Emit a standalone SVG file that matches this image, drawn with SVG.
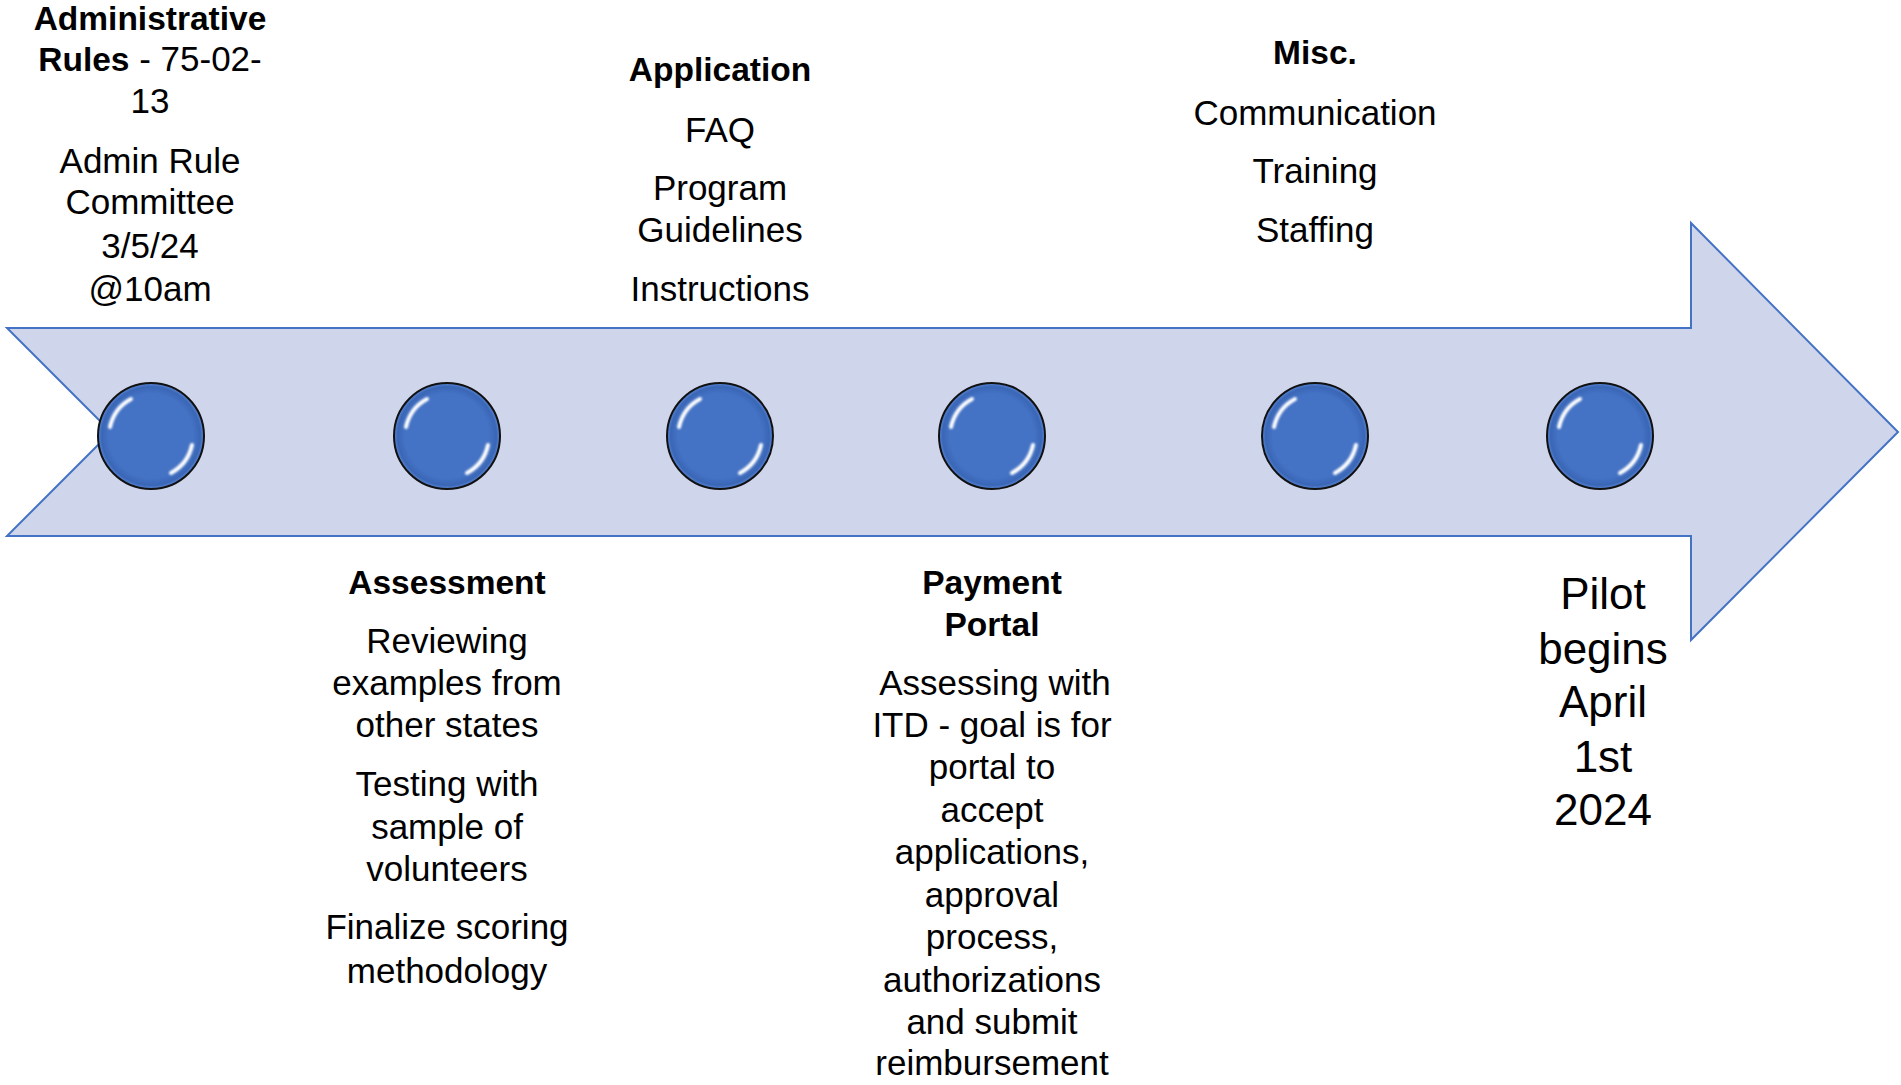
<svg xmlns="http://www.w3.org/2000/svg" xmlns:xlink="http://www.w3.org/1999/xlink" width="1901" height="1085" viewBox="0 0 1901 1085">
<style>
  text { font-family: "Liberation Sans", Arial, sans-serif; font-size: 35px; fill: #000; text-anchor: middle; }
  .b { font-weight: bold; font-size: 33.5px; }
  .big { font-size: 44px; }
  .arrow { fill: #CFD5EA; stroke: #4472C4; stroke-width: 2; }
</style>
<defs>
  <radialGradient id="orbFill" cx="50%" cy="50%" r="50%">
    <stop offset="0" stop-color="#4472C4"/>
    <stop offset="0.8" stop-color="#4472C4"/>
    <stop offset="0.93" stop-color="#3A66B6"/>
    <stop offset="1" stop-color="#5A86D4"/>
  </radialGradient>
  <filter id="soft" x="-20%" y="-20%" width="140%" height="140%">
    <feGaussianBlur stdDeviation="1.2"/>
  </filter>
  <g id="orb">
    <circle r="53" fill="url(#orbFill)" stroke="#111" stroke-width="2"/>
    <path d="M -41 -9 A 42 42 0 0 1 -20 -37" fill="none" stroke="#fff" stroke-width="4" stroke-linecap="round" filter="url(#soft)"/>
    <path d="M 41 9 A 42 42 0 0 1 20 37" fill="none" stroke="#fff" stroke-width="4" stroke-linecap="round" filter="url(#soft)"/>
  </g>
</defs>
<rect width="1901" height="1085" fill="#fff"/>
<g id="connectors">
  <path class="arrow" d="M 7 328 L 1691 328 L 1691 223 L 1898 432 L 1691 640 L 1691 536 L 7 536 L 111 432 Z"/>
</g>
<g id="node-admin-rules">
  <use xlink:href="#orb" x="151" y="436"/>
  <text class="b" x="150" y="30">Administrative</text>
  <text x="150" y="71"><tspan font-weight="bold" font-size="33.5">Rules</tspan> - 75-02-</text>
  <text x="150" y="113">13</text>
  <text x="150" y="173">Admin Rule</text>
  <text x="150" y="214">Committee</text>
  <text x="150" y="258">3/5/24</text>
  <text x="150" y="301">@10am</text>
</g>
<g id="node-assessment">
  <use xlink:href="#orb" x="447" y="436"/>
  <text class="b" x="447" y="594">Assessment</text>
  <text x="447" y="653">Reviewing</text>
  <text x="447" y="695">examples from</text>
  <text x="447" y="737">other states</text>
  <text x="447" y="796">Testing with</text>
  <text x="447" y="839">sample of</text>
  <text x="447" y="881">volunteers</text>
  <text x="447" y="939">Finalize scoring</text>
  <text x="447" y="983">methodology</text>
</g>
<g id="node-application">
  <use xlink:href="#orb" x="720" y="436"/>
  <text class="b" x="720" y="81">Application</text>
  <text x="720" y="142">FAQ</text>
  <text x="720" y="200">Program</text>
  <text x="720" y="242">Guidelines</text>
  <text x="720" y="301">Instructions</text>
</g>
<g id="node-payment-portal">
  <use xlink:href="#orb" x="992" y="436"/>
  <text class="b" x="992" y="594">Payment</text>
  <text class="b" x="992" y="636">Portal</text>
  <text x="995" y="695">Assessing with</text>
  <text x="992" y="737">ITD - goal is for</text>
  <text x="992" y="779">portal to</text>
  <text x="992" y="822">accept</text>
  <text x="992" y="864">applications,</text>
  <text x="992" y="907">approval</text>
  <text x="992" y="949">process,</text>
  <text x="992" y="992">authorizations</text>
  <text x="992" y="1034">and submit</text>
  <text x="992" y="1075">reimbursement</text>
</g>
<g id="node-misc">
  <use xlink:href="#orb" x="1315" y="436"/>
  <text class="b" x="1315" y="64">Misc.</text>
  <text x="1315" y="125">Communication</text>
  <text x="1315" y="183">Training</text>
  <text x="1315" y="242">Staffing</text>
</g>
<g id="node-pilot">
  <use xlink:href="#orb" x="1600" y="436"/>
  <text class="big" x="1603" y="609">Pilot</text>
  <text class="big" x="1603" y="664">begins</text>
  <text class="big" x="1603" y="717">April</text>
  <text class="big" x="1603" y="772">1st</text>
  <text class="big" x="1603" y="825">2024</text>
</g>
</svg>
